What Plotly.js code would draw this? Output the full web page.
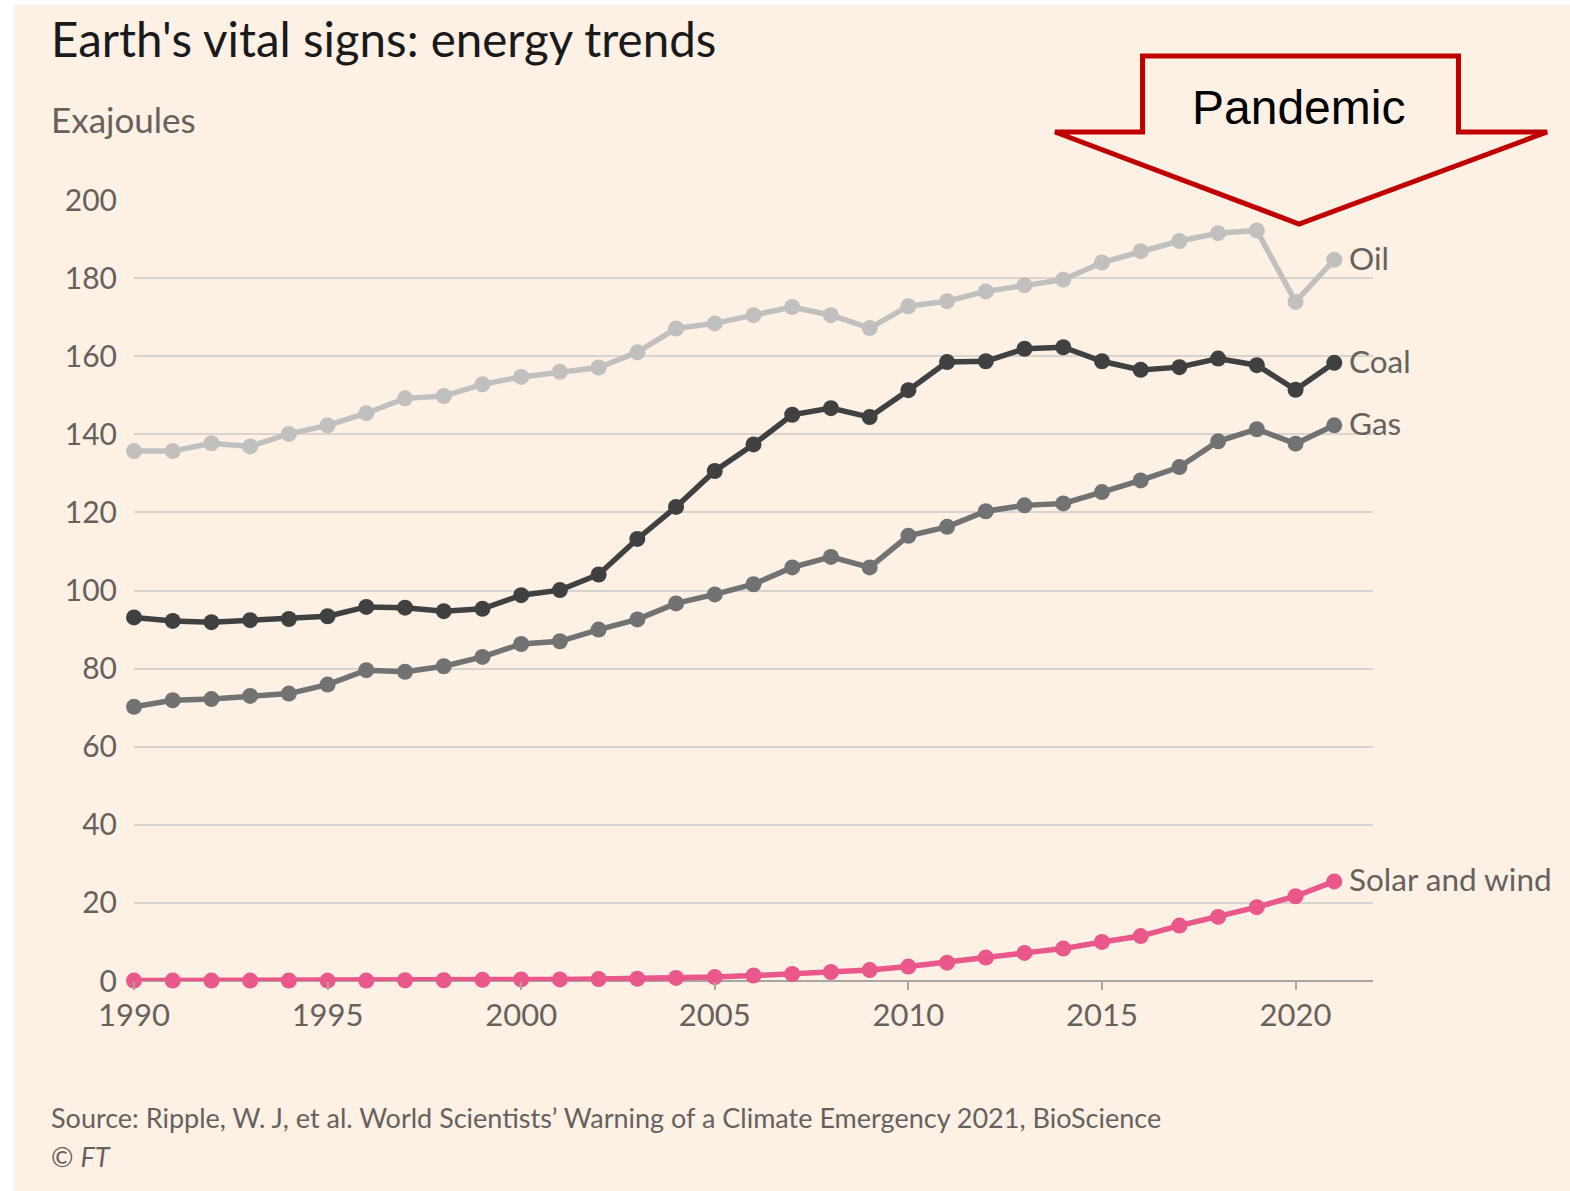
<!DOCTYPE html>
<html>
<head>
<meta charset="utf-8">
<script src="https://cdn.plot.ly/plotly-3.0.1.min.js"></script>
<style>
  html, body { margin: 0; padding: 0; background: #ffffff; width: 1570px; height: 1191px; overflow: hidden; }
  #chart { position: absolute; left: 14px; top: 5px; width: 1556px; height: 1186px; }
</style>
</head>
<body>
<div id="chart"></div>
<script>
// ---- Data ----
const years = [1990,1991,1992,1993,1994,1995,1996,1997,1998,1999,2000,2001,2002,2003,2004,2005,2006,2007,2008,2009,2010,2011,2012,2013,2014,2015,2016,2017,2018,2019,2020,2021];
const oil   = [135.7,135.7,137.7,136.9,140.1,142.3,145.4,149.2,149.8,152.8,154.7,156.0,157.1,161.0,167.1,168.4,170.5,172.6,170.5,167.2,172.8,174.1,176.6,178.2,179.6,184.0,186.9,189.5,191.5,192.2,173.9,184.7];
const coal  = [93.1,92.2,91.9,92.4,92.7,93.4,95.8,95.6,94.7,95.3,98.8,100.1,104.1,113.2,121.4,130.6,137.4,145.0,146.7,144.4,151.3,158.5,158.7,161.9,162.3,158.7,156.5,157.2,159.4,157.7,151.4,158.3];
const gas   = [70.2,71.9,72.2,73.0,73.6,75.9,79.6,79.2,80.6,83.0,86.3,87.0,90.0,92.6,96.7,99.0,101.6,105.9,108.6,105.9,114.0,116.3,120.3,121.8,122.3,125.2,128.2,131.6,138.2,141.3,137.6,142.3];
const solarWind = [0.1,0.1,0.1,0.1,0.1,0.1,0.1,0.2,0.2,0.3,0.4,0.4,0.5,0.6,0.8,1.0,1.4,1.8,2.3,2.8,3.7,4.7,6.0,7.2,8.3,10.0,11.5,14.2,16.4,18.9,21.7,25.5];
const seriesNames = ["Oil","Coal","Gas","Solar and wind"];
const xTickVals = [1990,1995,2000,2005,2010,2015,2020];
const yTickVals = [0,20,40,60,80,100,120,140,160,180,200];

const titleText = "Earth's vital signs: energy trends";
const unitText = "Exajoules";
const sourceText = "Source: Ripple, W. J, et al. World Scientists\u2019 Warning of a Climate Emergency 2021, BioScience";
const creditText = "\u00A9 <i>FT</i>";
const calloutText = "Pandemic";

// ---- Styles ----
const colors = ["#C2C0BE", "#404040", "#727272", "#E9578B"];
const FONT = "Lato, 'Open Sans', sans-serif";
const GREY = "#67615C";
const seriesValues = [oil, coal, gas, solarWind];

const traces = seriesValues.map((vals, i) => ({
  type: "scatter",
  mode: "lines+markers",
  x: years,
  y: vals,
  name: seriesNames[i],
  line: { color: colors[i], width: 5.5 },
  marker: { color: colors[i], size: 16 },
  cliponaxis: false,
  hoverinfo: "x+y+name"
}));

const endLabels = seriesValues.map((vals, i) => ({
  xref: "x", yref: "y",
  x: years[years.length - 1],
  y: vals[vals.length - 1],
  text: seriesNames[i],
  showarrow: false,
  xanchor: "left", yanchor: "middle",
  xshift: 13, yshift: 2,
  font: { family: FONT, size: 31.5, color: GREY }
}));

const layout = {
  width: 1556, height: 1186,
  paper_bgcolor: "#FDF0E5",
  plot_bgcolor: "#FDF0E5",
  showlegend: false,
  margin: { l: 120, r: 197, t: 195, b: 210, pad: 0 },
  title: {
    text: titleText,
    xref: "container", yref: "container",
    x: 37 / 1556, xanchor: "left",
    y: 0.9705, yanchor: "middle",
    font: { family: FONT, size: 47.5, color: "#1A1A1A" }
  },
  xaxis: {
    range: [1990, 2022],
    tickvals: xTickVals,
    ticks: "outside", ticklen: 8, tickwidth: 2, tickcolor: "#ABA59F",
    showgrid: false, zeroline: false, showline: false,
    ticklabelstandoff: -1,
    tickfont: { family: FONT, size: 31, color: GREY }
  },
  yaxis: {
    range: [0, 200],
    tickvals: yTickVals,
    ticks: "",
    showgrid: true, gridcolor: "#D9D3CD", gridwidth: 2,
    zeroline: true, zerolinecolor: "#ABA59F", zerolinewidth: 2,
    showline: false,
    ticklabelstandoff: 16,
    tickfont: { family: FONT, size: 30, color: GREY }
  },
  shapes: [{
    type: "path",
    xref: "paper", yref: "paper",
    path: "M 0.8140 1.1844 L 1.0690 1.1844 L 1.0690 1.0871 L 1.1405 1.0871 L 0.9403 0.9693 L 0.7434 1.0871 L 0.8140 1.0871 Z",
    line: { color: "#C00000", width: 5 },
    fillcolor: "rgba(0,0,0,0)",
    layer: "above"
  }],
  annotations: endLabels.concat([
    {
      xref: "paper", yref: "paper", x: 0.9395, y: 1.1178,
      text: calloutText, showarrow: false, xanchor: "center", yanchor: "middle",
      font: { family: "'Liberation Sans', Arial, sans-serif", size: 48, color: "#000000" }
    },
    {
      xref: "paper", yref: "paper", x: -0.0686, y: 1.1037,
      text: unitText, showarrow: false, xanchor: "left", yanchor: "middle",
      font: { family: FONT, size: 35, color: GREY }
    },
    {
      xref: "paper", yref: "paper", x: -0.0686, y: -0.1754,
      text: sourceText, showarrow: false, xanchor: "left", yanchor: "middle",
      font: { family: FONT, size: 27, color: GREY }
    },
    {
      xref: "paper", yref: "paper", x: -0.0686, y: -0.2241,
      text: creditText, showarrow: false, xanchor: "left", yanchor: "middle",
      font: { family: FONT, size: 27, color: GREY }
    }
  ])
};

Plotly.newPlot("chart", traces, layout, { displayModeBar: false, staticPlot: true });
</script>
</body>
</html>
